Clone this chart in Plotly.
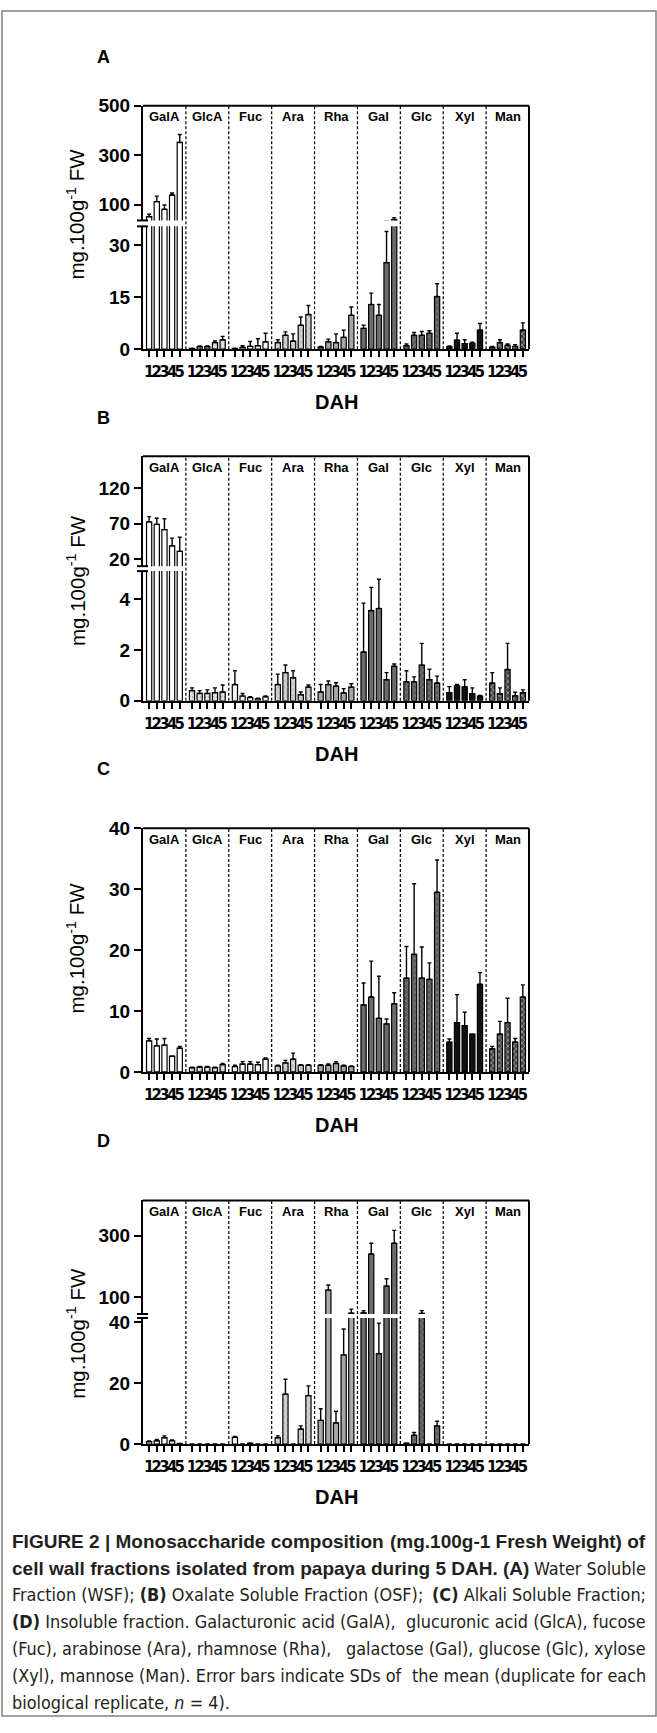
import plotly.graph_objects as go

W, H = 657, 1733

SUGARS = ["GalA", "GlcA", "Fuc", "Ara", "Rha", "Gal", "Glc", "Xyl", "Man"]
DAH_LABELS = ["1", "2", "3", "4", "5"]

# (A) Water soluble fraction
A_MEAN = [
    [52, 113, 82, 139.5, 352],
    [0.2, 0.7, 0.7, 1.9, 2.7],
    [0.2, 0.5, 0.8, 1.0, 2.1],
    [1.9, 4.0, 2.3, 6.9, 10.0],
    [0.6, 2.1, 1.9, 3.4, 9.8],
    [6.0, 12.9, 9.8, 25.0, 40.0],
    [1.0, 4.0, 4.0, 4.6, 15.2],
    [0.7, 2.6, 1.6, 1.7, 5.5],
    [0.6, 1.9, 1.1, 0.8, 5.5],
]
A_SD = [
    [10, 22, 17, 8, 32],
    [0, 0.2, 0.2, 0.5, 1.0],
    [0, 0.5, 1.4, 2.0, 2.5],
    [0.8, 1.0, 2.1, 2.4, 2.6],
    [0.2, 0.8, 2.5, 2.1, 2.4],
    [0.9, 3.3, 3.1, 9.0, 8.0],
    [0.5, 0.8, 1.1, 0.7, 3.7],
    [0.2, 2.0, 1.1, 0.3, 1.9],
    [0.2, 0.8, 0.4, 0.5, 2.1],
]

# (B) Oxalate soluble fraction
B_MEAN = [
    [72.4, 69.0, 61.6, 38.6, 30.9],
    [0.40, 0.29, 0.29, 0.32, 0.35],
    [0.64, 0.19, 0.13, 0.08, 0.16],
    [0.64, 1.11, 0.91, 0.24, 0.54],
    [0.35, 0.64, 0.58, 0.31, 0.54],
    [1.92, 3.55, 3.63, 0.83, 1.36],
    [0.75, 0.75, 1.40, 0.83, 0.70],
    [0.32, 0.59, 0.55, 0.28, 0.19],
    [0.70, 0.28, 1.23, 0.20, 0.32],
]
B_SD = [
    [7.4, 8.6, 15.2, 10.9, 19.9],
    [0.11, 0.11, 0.14, 0.19, 0.27],
    [0.54, 0.10, 0.03, 0.02, 0.03],
    [0.41, 0.30, 0.27, 0.11, 0.08],
    [0.29, 0.14, 0.13, 0.17, 0.13],
    [1.92, 0.91, 1.15, 0.28, 0.09],
    [0.43, 0.19, 0.86, 0.41, 0.27],
    [0.24, 0.05, 0.28, 0.23, 0.02],
    [0.41, 0.23, 1.03, 0.14, 0.11],
]

# (C) Alkali soluble fraction
C_MEAN = [
    [5.1, 4.3, 4.4, 2.6, 3.9],
    [0.7, 0.8, 0.8, 0.7, 1.2],
    [0.9, 1.3, 1.3, 1.2, 2.1],
    [1.0, 1.5, 2.1, 1.1, 1.1],
    [1.1, 1.1, 1.4, 1.0, 0.9],
    [11.0, 12.3, 8.8, 7.9, 11.2],
    [15.4, 19.3, 15.4, 15.2, 29.5],
    [4.9, 8.1, 7.6, 6.2, 14.4],
    [3.8, 6.2, 8.1, 4.9, 12.3],
]
C_SD = [
    [0.4, 1.1, 1.1, 0.0, 0.3],
    [0.1, 0.1, 0.1, 0.1, 0.2],
    [0.2, 0.4, 0.4, 0.4, 0.2],
    [0.1, 0.4, 1.0, 0.1, 0.1],
    [0.1, 0.2, 0.3, 0.1, 0.1],
    [3.6, 5.9, 6.9, 0.8, 1.8],
    [5.2, 11.6, 5.1, 2.7, 5.3],
    [0.5, 4.6, 2.2, 0.0, 1.9],
    [0.4, 2.1, 4.0, 0.6, 2.0],
]

# (D) Insoluble fraction
D_MEAN = [
    [0.8, 1.1, 2.1, 1.1, 0.2],
    [0, 0, 0, 0, 0],
    [2.2, 0, 0.3, 0, 0],
    [2.1, 16.4, 0, 4.9, 15.9],
    [7.8, 122, 7.0, 29.3, 47],
    [48, 240, 29.7, 135, 275],
    [0.3, 2.9, 46, 0, 6.0],
    [0, 0, 0, 0, 0],
    [0, 0, 0, 0, 0],
]
D_SD = [
    [0.2, 0.4, 0.6, 0.3, 0],
    [0, 0, 0, 0, 0],
    [0.3, 0, 0, 0, 0],
    [0.6, 4.9, 0, 1.1, 3.2],
    [3.8, 16.5, 3.8, 8.5, 13],
    [6.6, 35, 10, 24, 42],
    [0, 0.9, 9, 0, 1.5],
    [0, 0, 0, 0, 0],
    [0, 0, 0, 0, 0],
]

# axis ranges / ticks for each panel (segments: lower, upper)
A_LOW_RANGE, A_LOW_TICKS = [0, 35.5], [0, 15, 30]
A_UP_RANGE, A_UP_TICKS = [37, 500], [100, 300, 500]
B_LOW_RANGE, B_LOW_TICKS = [0, 5.1], [0, 2, 4]
B_UP_RANGE, B_UP_TICKS = [10, 165], [20, 70, 120]
C_RANGE, C_TICKS = [0, 40], [0, 10, 20, 30, 40]
D_LOW_RANGE, D_LOW_TICKS = [0, 41.4], [0, 20, 40]
D_UP_RANGE, D_UP_TICKS = [44, 415], [100, 300]

# ---------------- styling ----------------
FILL = ["#ffffff", "#e4e4e4", "#f4f4f4", "#c4c4c4", "#a6a6a6", "#6c6c6c", "#5a5a5a", "#111111", "#474747"]
PATTERN = ["", ".", "", "x", "", "", "x", "", "x"]
PAT_FG = ["black", "#8a8a8a", "black", "#ffffff", "black", "black", "#a0a0a0", "black", "#ffffff"]

GROUP_W = 5.6
BAR_W = 0.68
X_LEFT_PX, X_RIGHT_PX = 143, 529
TITLE_X_PX, LETTER_X_PX = 76, 103
NUM_FONT = "Liberation Sans Narrow, Arial Narrow, DejaVu Sans Condensed, sans-serif"
SANS = "Liberation Sans, Arial, sans-serif"


def fx(px):
    return px / W


def fy(py):
    return 1 - py / H


panels = [
    dict(letter="A", mean=A_MEAN, sd=A_SD, top=97, zero=343.3, letter_y=48,
         title_y=207,
         segs=[(219, 343.3, A_LOW_RANGE, A_LOW_TICKS), (97, 213, A_UP_RANGE, A_UP_TICKS)]),
    dict(letter="B", mean=B_MEAN, sd=B_SD, top=451.7, zero=699.3, letter_y=413,
         title_y=578,
         segs=[(568, 699.3, B_LOW_RANGE, B_LOW_TICKS), (451.7, 563, B_UP_RANGE, B_UP_TICKS)]),
    dict(letter="C", mean=C_MEAN, sd=C_SD, top=828.3, zero=1075, letter_y=768,
         title_y=950,
         segs=[(828.3, 1075, C_RANGE, C_TICKS)]),
    dict(letter="D", mean=D_MEAN, sd=D_SD, top=1205, zero=1451.7, letter_y=1145,
         title_y=1340,
         segs=[(1324, 1451.7, D_LOW_RANGE, D_LOW_TICKS), (1205, 1320, D_UP_RANGE, D_UP_TICKS)]),
]

fig = go.Figure()
layout = dict(width=W, height=H, margin=dict(l=0, r=0, t=0, b=0),
              paper_bgcolor="white", plot_bgcolor="rgba(0,0,0,0)",
              showlegend=False, barmode="overlay")
shapes, annotations = [], []

xvals = [g * GROUP_W + 0.8 + i for g in range(len(SUGARS)) for i in range(5)]
xtext = DAH_LABELS * len(SUGARS)

yidx = 0
for pi, p in enumerate(panels):
    xname = "x" if pi == 0 else f"x{pi + 1}"
    xkey = "xaxis" if pi == 0 else f"xaxis{pi + 1}"
    seg_names = []
    for si, (ptop, pbot, rng, ticks) in enumerate(p["segs"]):
        yidx += 1
        yname = "y" if yidx == 1 else f"y{yidx}"
        ykey = "yaxis" if yidx == 1 else f"yaxis{yidx}"
        seg_names.append(yname)
        layout[ykey] = dict(domain=[fy(pbot), fy(ptop)], range=rng, anchor=xname,
                            showline=True, linecolor="black", linewidth=2,
                            ticks="outside", ticklen=7, tickwidth=2, tickcolor="black",
                            tickvals=ticks, ticktext=[str(t) for t in ticks],
                            tickfont=dict(family=SANS, size=19, color="black", weight="bold"),
                            showgrid=False, zeroline=False, fixedrange=True)
        for g, s in enumerate(SUGARS):
            xs = [g * GROUP_W + 0.8 + i for i in range(5)]
            pat = dict(shape=PATTERN[g], fgcolor=PAT_FG[g], bgcolor=FILL[g],
                       size=4, solidity=0.35, fillmode="overlay")
            fig.add_trace(go.Bar(
                x=xs, y=p["mean"][g], width=BAR_W, xaxis=xname, yaxis=yname,
                name=s,
                marker=dict(color=FILL[g], line=dict(color="black", width=1.2), pattern=pat),
                error_y=dict(type="data", array=p["sd"][g], arrayminus=[0] * 5,
                             symmetric=False, color="black", thickness=1.4, width=2),
                hoverinfo="x+y",
            ))
    layout[xkey] = dict(domain=[fx(X_LEFT_PX), fx(X_RIGHT_PX)],
                        range=[0, GROUP_W * len(SUGARS)], anchor=seg_names[0],
                        showline=True, linecolor="black", linewidth=2,
                        ticks="outside", ticklen=6, tickwidth=2, tickcolor="black",
                        tickvals=xvals, ticktext=xtext, tickangle=0, ticklabelstandoff=0,
                        tickfont=dict(family=NUM_FONT, size=16.5, color="black", weight="bold"),
                        showgrid=False, zeroline=False, fixedrange=True)

    # frame: top and right lines
    shapes.append(dict(type="line", xref="paper", yref="paper",
                       x0=fx(X_LEFT_PX), x1=fx(X_RIGHT_PX), y0=fy(p["top"]), y1=fy(p["top"]),
                       line=dict(color="black", width=2)))
    shapes.append(dict(type="line", xref="paper", yref="paper",
                       x0=fx(X_RIGHT_PX), x1=fx(X_RIGHT_PX), y0=fy(p["zero"]), y1=fy(p["top"]),
                       line=dict(color="black", width=2)))
    # dashed separators between groups
    for g in range(1, len(SUGARS)):
        shapes.append(dict(type="line", xref=xname, yref="paper",
                           x0=g * GROUP_W, x1=g * GROUP_W, y0=fy(p["zero"]), y1=fy(p["top"]),
                           line=dict(color="black", width=1.2, dash="3px,2px")))
    # axis break marks
    if len(p["segs"]) == 2:
        for yy in (p["segs"][0][0], p["segs"][1][1]):
            shapes.append(dict(type="line", xref="paper", yref="paper",
                               x0=fx(X_LEFT_PX - 6), x1=fx(X_LEFT_PX + 5), y0=fy(yy), y1=fy(yy),
                               line=dict(color="black", width=2)))
    # group labels
    for g, s in enumerate(SUGARS):
        annotations.append(dict(text=s, xref=xname, yref="paper",
                                x=g * GROUP_W + GROUP_W / 2, y=fy(p["top"] + 11),
                                showarrow=False, xanchor="center", yanchor="middle",
                                font=dict(family=SANS, size=13, color="black", weight="bold")))
    # panel letter
    annotations.append(dict(text=p["letter"], xref="paper", yref="paper",
                            x=fx(LETTER_X_PX), y=fy(p["letter_y"]), showarrow=False,
                            xanchor="center", yanchor="middle",
                            font=dict(family=SANS, size=18, color="black", weight="bold")))
    # y title
    annotations.append(dict(text="mg.100g<sup>-1</sup> FW", xref="paper", yref="paper",
                            x=fx(TITLE_X_PX), y=fy(p["title_y"]), showarrow=False, textangle=-90,
                            xanchor="center", yanchor="middle",
                            font=dict(family=SANS, size=20.5, color="black")))
    # x title
    annotations.append(dict(text="DAH", xref="paper", yref="paper",
                            x=fx((X_LEFT_PX + X_RIGHT_PX) / 2), y=fy(p["zero"] + 54),
                            showarrow=False, xanchor="center", yanchor="middle",
                            font=dict(family=SANS, size=20, color="black", weight="bold")))

# caption (justified approximately: a left-anchored and a right-anchored chunk per line)
CAPTION_BOLD = "Liberation Sans, Arial, sans-serif"
CAPTION_LIGHT = "Liberation Sans Narrow, Arial Narrow, DejaVu Sans Condensed, sans-serif"
cap_y0, cap_dy, cap_x0, cap_x1 = 1550, 27.2, 10, 648
BOLD_SZ, LIGHT_SZ = 19, 17.9
cap_lines = [
    [("<b>FIGURE 2 | Monosaccharide composition</b>", CAPTION_BOLD, BOLD_SZ, "left"),
     ("<b>(mg.100g-1 Fresh Weight) of</b>", CAPTION_BOLD, BOLD_SZ, "right")],
    [("<b>cell wall fractions isolated from papaya</b>", CAPTION_BOLD, BOLD_SZ, "left"),
     ("<b>during 5 DAH. (A)</b>", CAPTION_BOLD, BOLD_SZ, ("right", 531)),
     ("Water Soluble", CAPTION_LIGHT, LIGHT_SZ, "right")],
    [("Fraction (WSF); <b>(B)</b> Oxalate Soluble Fraction (OSF);", CAPTION_LIGHT, LIGHT_SZ, "left"),
     ("<b>(C)</b> Alkali Soluble Fraction;", CAPTION_LIGHT, LIGHT_SZ, "right")],
    [("<b>(D)</b> Insoluble fraction. Galacturonic acid (GalA),", CAPTION_LIGHT, LIGHT_SZ, "left"),
     ("glucuronic acid (GlcA), fucose", CAPTION_LIGHT, LIGHT_SZ, "right")],
    [("(Fuc), arabinose (Ara), rhamnose (Rha),", CAPTION_LIGHT, LIGHT_SZ, "left"),
     ("galactose (Gal), glucose (Glc), xylose", CAPTION_LIGHT, LIGHT_SZ, "right")],
    [("(Xyl), mannose (Man). Error bars indicate SDs of", CAPTION_LIGHT, LIGHT_SZ, "left"),
     ("the mean (duplicate for each", CAPTION_LIGHT, LIGHT_SZ, "right")],
    [("biological replicate, <i>n</i> = 4).", CAPTION_LIGHT, LIGHT_SZ, "left")],
]
for k, chunks in enumerate(cap_lines):
    for txt, fam, sz, anc in chunks:
        if isinstance(anc, tuple):
            anc, xpos = anc
        else:
            xpos = cap_x0 if anc == "left" else cap_x1
        annotations.append(dict(text=txt, xref="paper", yref="paper", x=fx(xpos),
                                y=fy(cap_y0 + k * cap_dy), showarrow=False,
                                xanchor=anc, yanchor="middle",
                                font=dict(family=fam, size=sz, color="#231f20")))

# outer border
shapes.append(dict(type="rect", xref="paper", yref="paper", x0=fx(2), x1=fx(656),
                   y0=fy(1727), y1=fy(1), line=dict(color="#808080", width=1.5)))

layout["shapes"] = shapes
layout["annotations"] = annotations
fig.update_layout(**layout)
fig.write_html("out.html", config={"displayModeBar": False},
               post_script="document.body.style.margin='0px';document.body.style.padding='0px';")
